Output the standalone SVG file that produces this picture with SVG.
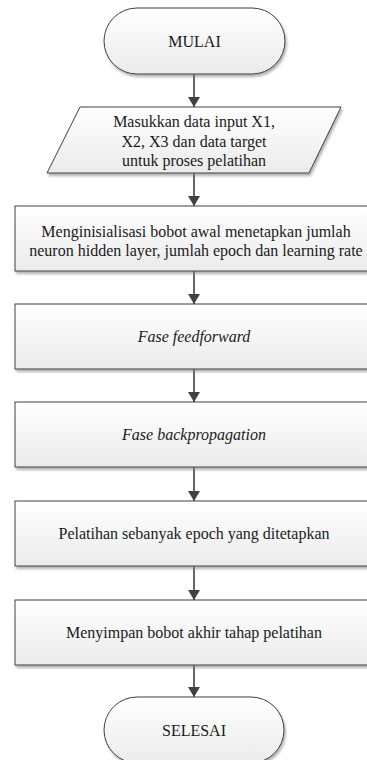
<svg xmlns="http://www.w3.org/2000/svg" width="367" height="760" viewBox="0 0 367 760">
<style>
  .shape { fill: url(#grad); stroke: #404040; stroke-width: 1; filter: url(#shadow); }
  .lbl { font-family: 'Liberation Serif', 'Times New Roman', serif; font-size: 16px; fill: #1a1a1a; text-anchor: middle; }
  .it { font-style: italic; }
  .conn { stroke: #404040; stroke-width: 1.6; fill: none; marker-end: url(#arrow); }
</style>
<defs>
  <linearGradient id="grad" x1="0" y1="0" x2="0" y2="1">
    <stop offset="0" stop-color="#ffffff"/>
    <stop offset="1" stop-color="#ebebeb"/>
  </linearGradient>
  <filter id="shadow" x="-5%" y="-10%" width="115%" height="130%">
    <feDropShadow dx="1.5" dy="2.5" stdDeviation="0.8" flood-color="#808080" flood-opacity="0.6"/>
  </filter>
  <marker id="arrow" viewBox="0 0 10 12" refX="10" refY="6" markerWidth="10" markerHeight="12" markerUnits="userSpaceOnUse" orient="auto">
    <path d="M0,0 L10,6 L0,12 Z" fill="#404040"/>
  </marker>
</defs>
<rect width="367" height="760" fill="#ffffff"/>
<g id="connectors">
  <line class="conn" x1="194" y1="74" x2="194" y2="107"/>
  <line class="conn" x1="194" y1="173" x2="194" y2="206"/>
  <line class="conn" x1="194" y1="271" x2="194" y2="304"/>
  <line class="conn" x1="194" y1="369" x2="194" y2="402"/>
  <line class="conn" x1="194" y1="467" x2="194" y2="501"/>
  <line class="conn" x1="194" y1="566" x2="194" y2="600"/>
  <line class="conn" x1="194" y1="665" x2="194" y2="697"/>
</g>
<g id="mulai">
  <rect class="shape" x="104" y="8" width="181" height="66" rx="33" ry="33"/>
  <text class="lbl" x="194.5" y="46.5">MULAI</text>
</g>
<g id="input">
  <polygon class="shape" points="80,107 341,107 309,173 47,173"/>
  <text class="lbl" x="194" y="127">Masukkan data input X1,</text>
  <text class="lbl" x="194" y="146.5">X2, X3 dan data target</text>
  <text class="lbl" x="194" y="166">untuk proses pelatihan</text>
</g>
<g id="inisialisasi">
  <rect class="shape" x="15" y="206" width="358" height="65"/>
  <text class="lbl" x="196" y="236.5">Menginisialisasi bobot awal menetapkan jumlah</text>
  <text class="lbl" x="196" y="256">neuron hidden layer, jumlah epoch dan learning rate</text>
</g>
<g id="feedforward">
  <rect class="shape" x="15" y="304" width="358" height="65"/>
  <text class="lbl it" x="194" y="342">Fase feedforward</text>
</g>
<g id="backpropagation">
  <rect class="shape" x="15" y="402" width="358" height="65"/>
  <text class="lbl it" x="194" y="440">Fase backpropagation</text>
</g>
<g id="pelatihan">
  <rect class="shape" x="15" y="501" width="358" height="65"/>
  <text class="lbl" x="194" y="539">Pelatihan sebanyak epoch yang ditetapkan</text>
</g>
<g id="menyimpan">
  <rect class="shape" x="15" y="600" width="358" height="65"/>
  <text class="lbl" x="194" y="638">Menyimpan bobot akhir tahap pelatihan</text>
</g>
<g id="selesai">
  <rect class="shape" x="104" y="697" width="180" height="66" rx="33" ry="33"/>
  <text class="lbl" x="194" y="735.5">SELESAI</text>
</g>
</svg>
